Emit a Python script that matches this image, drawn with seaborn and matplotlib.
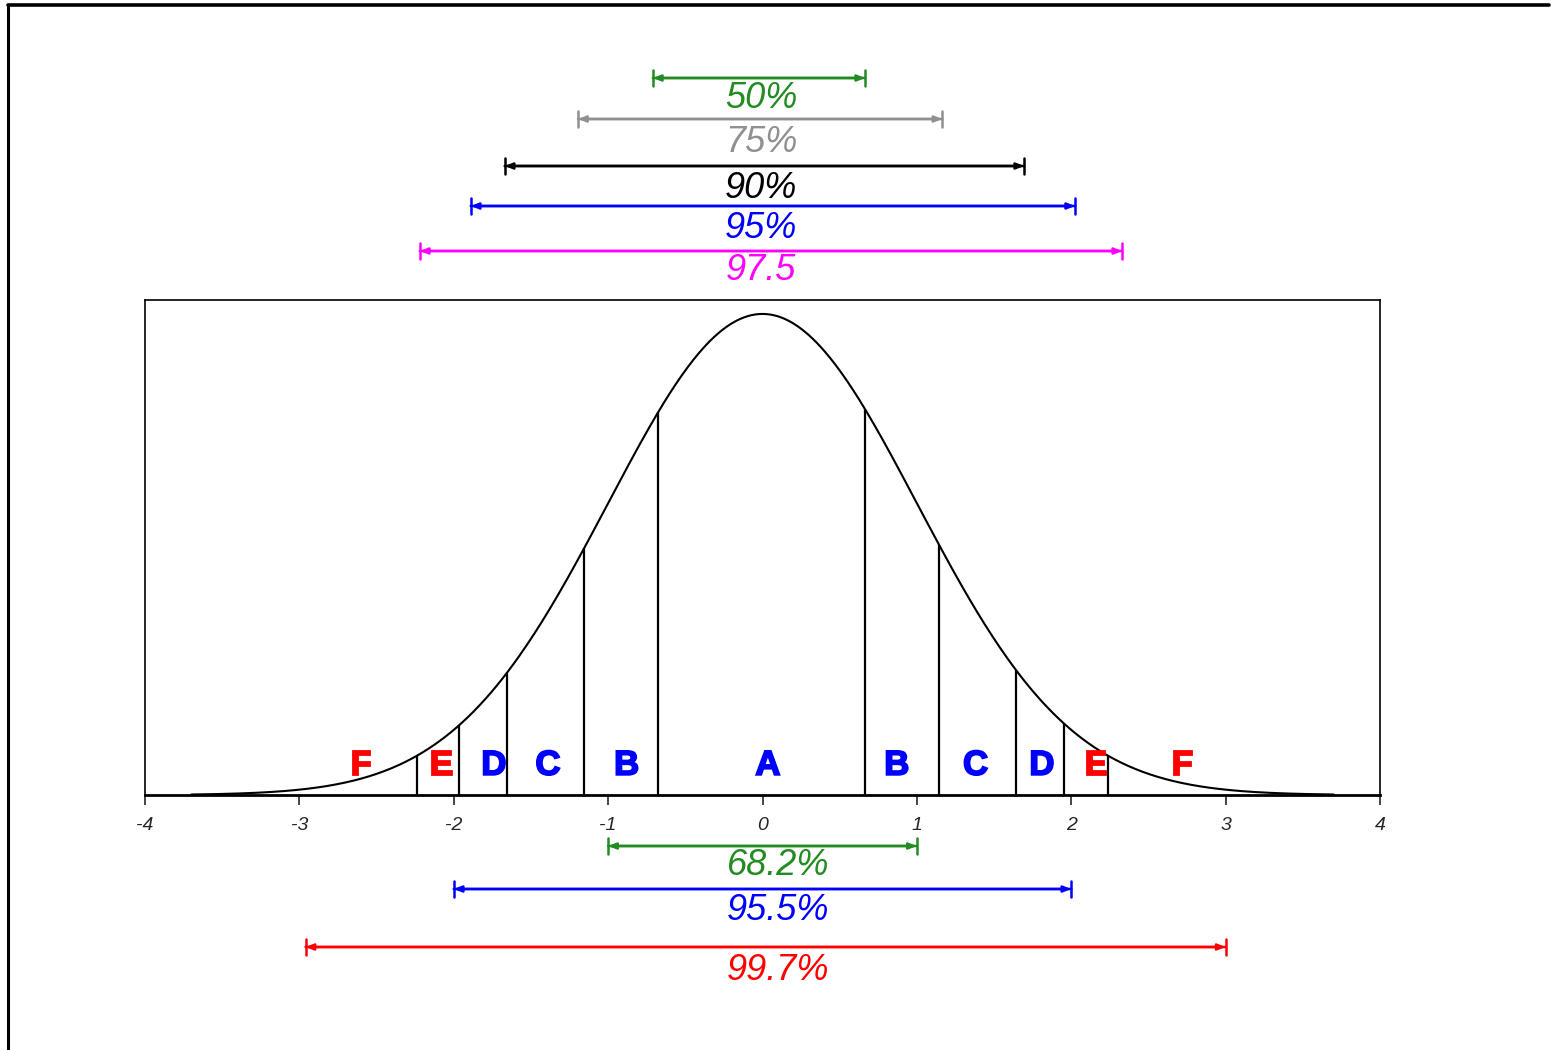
import numpy as np
import pandas as pd
import matplotlib
matplotlib.use("Agg")
import matplotlib.pyplot as plt
import matplotlib.transforms as mtransforms
import matplotlib.patheffects as pe
from matplotlib.lines import Line2D
import seaborn as sns

# cut points of the vertical lines (z values)
cuts = [-2.24, -1.965, -1.655, -1.155, -0.675, 0.665, 1.145, 1.64, 1.95, 2.24]

# letters for each zone
zone_letters = ["F", "E", "D", "C", "B", "A", "B", "C", "D", "E", "F"]
zone_x = [-2.6, -2.08, -1.74, -1.39, -0.88, 0.035, 0.87, 1.38, 1.81, 2.16, 2.72]

# intervals drawn above the axes
top_labels = ["50%", "75%", "90%", "95%", "97.5"]
top_left = [-0.71, -1.195, -1.67, -1.89, -2.22]
top_right = [0.665, 1.165, 1.695, 2.025, 2.33]
top_colors = ["#228B22", "#909090", "black", "#0000FF", "#FF00FF"]

# intervals drawn below the axes
bottom_labels = ["68.2%", "95.5%", "99.7%"]
bottom_left = [-1.0, -2.0, -2.96]
bottom_right = [1.0, 2.0, 3.0]
bottom_colors = ["#228B22", "#0000FF", "#FF0000"]

tick_vals = [-4, -3, -2, -1, 0, 1, 2, 3, 4]

W, H = 1551, 1050
sns.set_style("white")
plt.rcParams["font.family"] = ["Liberation Sans", "DejaVu Sans"]

fig = plt.figure(figsize=(W / 100, H / 100), dpi=100)
ax = fig.add_axes([145 / W, 1 - 795 / H, (1380 - 145) / W, (795 - 300) / H])

z = np.linspace(-3.7, 3.7, 600)
curve = pd.DataFrame({"z": z, "pdf": np.exp(-z ** 2 / 2) / np.sqrt(2 * np.pi)})
sns.lineplot(data=curve, x="z", y="pdf", color="black", lw=1.5, ax=ax)

for c in cuts:
    ax.vlines(c, 0, np.exp(-c ** 2 / 2) / np.sqrt(2 * np.pi), color="black", lw=1.6)

for letter, x in zip(zone_letters, zone_x):
    col = "#FF0000" if letter in ("E", "F") else "#0000FF"
    ax.text(x, 0.06, letter, transform=ax.get_xaxis_transform(), ha="center", va="center",
            fontsize=25, fontweight="bold", color=col,
            path_effects=[pe.Stroke(linewidth=1.3, foreground=col, joinstyle="miter"), pe.Normal()])

ax.set_xlim(-4, 4)
ax.set_ylim(0, 0.4105)
ax.set_xlabel("")
ax.set_ylabel("")
ax.set_yticks([])
ax.set_xticks(tick_vals)
ax.set_xticklabels([str(t) for t in tick_vals], fontsize=14, fontstyle="italic")
ax.tick_params(axis="x", direction="out", length=7, width=1.2, pad=9, bottom=True)
for s in ["top", "left", "right"]:
    ax.spines[s].set_linewidth(1.2)
    ax.spines[s].set_color("black")
ax.spines["bottom"].set_linewidth(2)
ax.spines["bottom"].set_color("black")

# brackets outside the axes: x in data units, y in figure fraction
trans = mtransforms.blended_transform_factory(ax.transData, fig.transFigure)
top_line_y = [78, 119, 166, 206, 251]
top_text_y = [108, 152, 198, 238, 280]
bottom_line_y = [846, 889, 947]
bottom_text_y = [875, 920, 980]


def bracket(x0, x1, ly, ty, label, col, tx):
    yy = 1 - ly / H
    ax.annotate("", xy=(x0, yy), xytext=(x1, yy), xycoords=trans, textcoords=trans,
                arrowprops=dict(arrowstyle="|-|, widthA=0.55, widthB=0.55", color=col, lw=1.8,
                                shrinkA=0, shrinkB=0), annotation_clip=False)
    ax.annotate("", xy=(x0, yy), xytext=(x1, yy), xycoords=trans, textcoords=trans,
                arrowprops=dict(arrowstyle="<|-|>, head_length=0.45, head_width=0.18", color=col,
                                lw=1.8, shrinkA=0, shrinkB=0), annotation_clip=False)
    ax.text(tx, 1 - ty / H, label, transform=trans, ha="center", va="baseline",
            fontsize=26, fontstyle="italic", color=col)


for i in range(len(top_labels)):
    bracket(top_left[i], top_right[i], top_line_y[i], top_text_y[i], top_labels[i], top_colors[i], -0.01)
for i in range(len(bottom_labels)):
    bracket(bottom_left[i], bottom_right[i], bottom_line_y[i], bottom_text_y[i], bottom_labels[i],
            bottom_colors[i], 0.1)

# page border (left and top edges only)
fig.add_artist(Line2D([8 / W, 8 / W], [0, 1 - 5 / H], color="black", lw=2.2, transform=fig.transFigure))
fig.add_artist(Line2D([8 / W, 1549 / W], [1 - 5 / H, 1 - 5 / H], color="black", lw=2.6,
                      transform=fig.transFigure))

fig.savefig("out.png", dpi=100)
